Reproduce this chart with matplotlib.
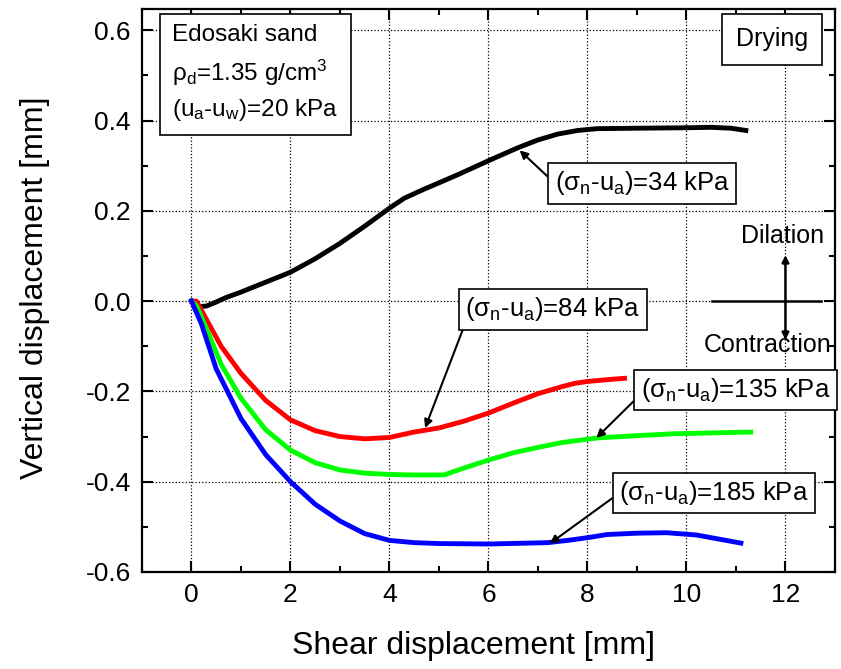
import matplotlib
matplotlib.use('Agg')
import matplotlib.pyplot as plt
from matplotlib.ticker import MultipleLocator

plt.rcParams['font.family'] = ['Liberation Sans', 'DejaVu Sans']
plt.rcParams['mathtext.fontset'] = 'custom'
plt.rcParams['mathtext.rm'] = 'Liberation Sans'
plt.rcParams['mathtext.it'] = 'Liberation Sans'
plt.rcParams['mathtext.default'] = 'regular'
plt.rcParams['axes.unicode_minus'] = False

# data
x34 = [0, 0.15, 0.3, 0.5, 0.7, 1.0, 1.5, 2, 2.5, 3, 3.5, 4, 4.3, 4.7, 5.0, 5.4, 6, 6.6, 7.0, 7.4,
       7.8, 8.2, 9, 10, 10.5, 10.9, 11.2]
y34 = [0, -0.012, -0.011, -0.002, 0.008, 0.02, 0.042, 0.064, 0.094, 0.128, 0.166, 0.206, 0.228,
       0.248, 0.262, 0.281, 0.311, 0.34, 0.357, 0.37, 0.378, 0.382, 0.383, 0.384, 0.385, 0.383, 0.378]

x84 = [0, 0.1, 0.3, 0.6, 1, 1.5, 2, 2.5, 3, 3.5, 4, 4.5, 5, 5.5, 6, 6.5, 7, 7.5, 7.75, 8, 8.5, 8.75]
y84 = [0, 0, -0.04, -0.10, -0.16, -0.22, -0.263, -0.287, -0.30, -0.305, -0.302, -0.29, -0.281,
       -0.266, -0.248, -0.226, -0.205, -0.189, -0.182, -0.178, -0.173, -0.171]

x135 = [0, 0.1, 0.3, 0.6, 1, 1.5, 2, 2.5, 3, 3.5, 4, 4.5, 5.1, 5.5, 6, 6.5, 7, 7.5, 8.2, 9, 9.7,
        10.5, 11.3]
y135 = [0, -0.01, -0.06, -0.14, -0.215, -0.285, -0.33, -0.358, -0.374, -0.381, -0.384, -0.385,
        -0.385, -0.37, -0.352, -0.336, -0.324, -0.313, -0.303, -0.298, -0.294, -0.292, -0.29]

x185 = [0, 0.2, 0.5, 1, 1.5, 2, 2.5, 3, 3.5, 4, 4.5, 5, 6, 7.2, 7.6, 8.0, 8.4, 9, 9.6, 10.2, 10.7,
        11.1]
y185 = [0, -0.05, -0.15, -0.26, -0.34, -0.40, -0.45, -0.487, -0.515, -0.53, -0.535, -0.537, -0.538,
        -0.535, -0.53, -0.524, -0.517, -0.514, -0.513, -0.518, -0.528, -0.536]

fig = plt.figure(figsize=(8.41, 6.69), dpi=100)
ax = fig.add_axes([0.1688, 0.145, 0.824, 0.8415])

lw = 3.5
ax.plot(x34, y34, color='black', lw=lw)
ax.plot(x84, y84, color='red', lw=lw)
ax.plot(x135, y135, color='#00ff00', lw=lw)
ax.plot(x185, y185, color='blue', lw=lw)

ax.set_xlim(-1, 13)
ax.set_ylim(-0.6, 0.647)
ax.xaxis.set_major_locator(MultipleLocator(2))
ax.xaxis.set_minor_locator(MultipleLocator(1))
ax.yaxis.set_major_locator(MultipleLocator(0.2))
ax.yaxis.set_minor_locator(MultipleLocator(0.1))
ax.yaxis.set_major_formatter(plt.FuncFormatter(lambda v, p: '%.1f' % v))
ax.xaxis.set_major_formatter(plt.FuncFormatter(lambda v, p: '%d' % round(v)))
ax.tick_params(which='both', direction='in', top=True, right=True, width=1.5, labelsize=19)
ax.tick_params(which='major', length=8, pad=8)
ax.tick_params(which='minor', length=4)
for s in ax.spines.values():
    s.set_linewidth(1.6)
ax.grid(True, which='major', ls=':', color='black', lw=0.9)

ax.set_xlabel('Shear displacement [mm]', fontsize=23)
ax.set_ylabel('Vertical displacement [mm]', fontsize=23)
ax.xaxis.set_label_coords(0.479, -0.105)
ax.yaxis.set_label_coords(-0.133, 0.505)

fs = 18.5
box = dict(boxstyle='square,pad=0.25', fc='white', ec='black', lw=1.2)

def arrow(rx, ry):
    return dict(arrowstyle='-|>', color='black', lw=1.5, mutation_scale=12,
                shrinkA=0, shrinkB=0, relpos=(rx, ry))

ax.text(-0.39, 0.614, 'Edosaki sand\n$\\rho_d$=1.35 g/cm$^3$\n$(u_a$-$u_w)$=20 kPa',
        fontsize=17.5, ha='left', va='top', linespacing=1.5,
        bbox=dict(boxstyle='square,pad=0.5', fc='white', ec='black', lw=1.2))
ax.text(11.73, 0.58, 'Drying', fontsize=18, ha='center', va='center',
        bbox=dict(boxstyle='square,pad=0.55', fc='white', ec='black', lw=1.2))

ax.annotate('$(\\sigma_n$-$u_a)$=34 kPa', xy=(6.63, 0.334), xytext=(9.11, 0.261), fontsize=fs,
            ha='center', va='center', bbox=box, arrowprops=arrow(0, 0.5))
ax.annotate('$(\\sigma_n$-$u_a)$=84 kPa', xy=(4.72, -0.281), xytext=(7.30, -0.018), fontsize=fs,
            ha='center', va='center', bbox=box, arrowprops=arrow(0, 0))
ax.annotate('$(\\sigma_n$-$u_a)$=135 kPa', xy=(8.18, -0.303), xytext=(10.99, -0.197), fontsize=fs,
            ha='center', va='center', bbox=box, arrowprops=arrow(0, 0.35))
ax.annotate('$(\\sigma_n$-$u_a)$=185 kPa', xy=(7.24, -0.537), xytext=(10.56, -0.425), fontsize=fs,
            ha='center', va='center', bbox=box, arrowprops=arrow(0, 0.5))

# dilation / contraction cross
ax.plot([10.52, 12.72], [0, 0], color='black', lw=1.8)
cross = dict(arrowstyle='-|>', color='black', lw=1.8, mutation_scale=10, shrinkA=0, shrinkB=0)
ax.annotate('', xy=(12.0, 0.102), xytext=(12.0, 0), arrowprops=cross)
ax.annotate('', xy=(12.0, -0.086), xytext=(12.0, 0), arrowprops=cross)
ax.text(11.94, 0.144, 'Dilation', fontsize=18, ha='center', va='center')
ax.text(11.63, -0.097, 'Contraction', fontsize=18, ha='center', va='center')

fig.savefig('out.png', dpi=100)
